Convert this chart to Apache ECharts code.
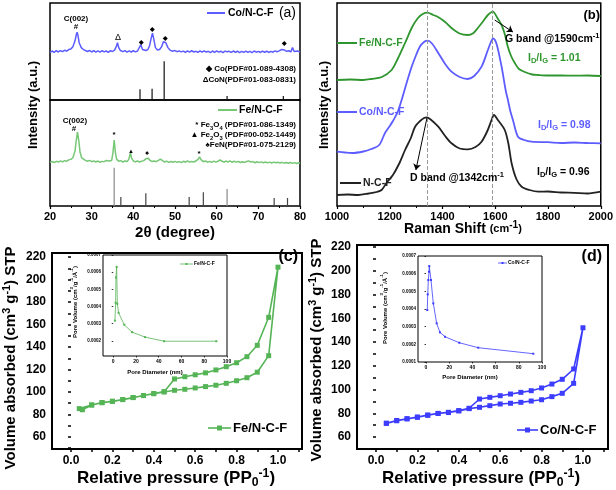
<!DOCTYPE html>
<html><head><meta charset="utf-8">
<script src="https://cdn.jsdelivr.net/npm/echarts@6/dist/echarts.min.js"></script>
<style>html,body{margin:0;padding:0;background:#fff}#c{width:616px;height:490px}</style>
</head><body><div id="c"></div>
<script>
const FF = '"Liberation Sans", Arial, Helvetica, sans-serif';

// ---------- (a) XRD ----------
const xrdCo = [[20,49],[20.5,50.5],[21,49.2],[21.5,50.8],[22,49.5],[22.5,51],[23,49.8],[23.5,51.2],[24,50.5],[24.5,52],[25,52.5],[25.5,55],[26,61],[26.3,67],[26.5,70],[26.7,67],[27,59],[27.5,54],[28,52],[28.5,51],[29,50],[29.5,51.2],[30,49.5],[30.5,50.8],[31,49.3],[31.5,50.6],[32,49.4],[32.5,50.9],[33,49.6],[33.5,50.5],[34,49.2],[34.5,50.8],[35,50],[35.5,51.5],[35.9,55],[36.2,59],[36.5,54],[36.9,51],[37.5,49.8],[38,50.9],[38.5,49.4],[39,50.6],[39.5,49.5],[40,50.8],[40.5,49.6],[41,50.5],[41.4,52],[41.8,57],[42.2,52],[42.6,50.3],[43,51],[43.5,52],[43.9,56],[44.3,64],[44.6,69],[44.9,63],[45.3,54],[45.8,51.5],[46.3,52],[46.8,55],[47.2,60],[47.5,62],[47.8,59],[48.3,54],[48.8,51.5],[49.3,50.3],[50,51],[50.5,49.8],[51,50.7],[51.5,49.6],[52,50.4],[52.5,49.2],[53,50.6],[53.5,49.3],[54,50.8],[54.5,49.5],[55,50.2],[55.5,49],[56,50.6],[56.5,49.4],[57,50.7],[57.5,49.3],[58,50.2],[58.5,48.9],[59,50.5],[59.5,49.2],[60,50.6],[60.5,49.4],[61,50.3],[61.5,48.9],[62,50.4],[62.5,49.7],[63,50.2],[63.5,49],[64,50.5],[64.5,49.2],[65,50.3],[65.5,48.8],[66,50.1],[66.5,49.1],[67,50.4],[67.5,49],[68,50.2],[68.5,48.9],[69,50.5],[69.5,49.3],[70,50.1],[70.5,49],[71,50.4],[71.5,49.2],[72,50.3],[72.5,49],[73,50.1],[73.5,49.3],[74,50.6],[74.5,49.8],[75,50.7],[75.5,52],[75.9,53.5],[76.3,51.5],[76.8,50.2],[77.3,50.8],[77.8,49.6],[78.2,54],[78.6,50],[79,49.6],[79.5,50.4],[80,49.5]];
const xrdFe = [[20,41.2],[20.5,42],[21,41],[21.5,42.2],[22,41.4],[22.5,42.6],[23,41.6],[23.5,42.8],[24,42.3],[24.5,43.5],[25,44],[25.5,45.5],[26,52],[26.3,62],[26.6,69.8],[26.9,62],[27.2,51],[27.6,45.5],[28,43.8],[28.5,43],[29,42.2],[29.5,43],[30,41.8],[30.5,42.6],[31,41.5],[31.5,42.4],[32,41.3],[32.5,42.1],[33,41.8],[33.5,43],[33.9,44.2],[34.3,42.5],[34.8,43],[35.1,50],[35.4,62.3],[35.7,50],[36,44],[36.5,42.3],[37,42.8],[37.5,41.5],[38,42.4],[38.5,42],[38.9,44],[39.3,50],[39.6,45],[40,42.5],[40.5,41.6],[41,42.4],[41.5,41.5],[42,42.3],[42.5,42.8],[43,44.5],[43.3,46.2],[43.6,45],[44,43],[44.5,42],[45,42.5],[45.5,41.8],[46,43],[46.5,44.3],[47,42.8],[47.5,41.5],[48,42.3],[48.5,41.2],[49,42],[49.5,41.3],[50,42.1],[50.5,41.2],[51,41.9],[51.5,41],[52,42.2],[52.5,41.3],[53,42.5],[53.5,41.4],[54,42],[54.5,41.5],[55,42.4],[55.5,44],[55.9,46.2],[56.3,43.5],[56.8,41.8],[57.3,42.5],[57.8,41.3],[58.3,42.1],[58.8,41.2],[59.3,42.3],[59.8,41.4],[60.3,42.2],[60.8,43.4],[61.2,42.4],[61.7,41.3],[62.2,42.4],[62.7,41.5],[63.2,42.5],[63.7,41.2],[64.2,42.2],[64.7,41.4],[65.2,42],[65.7,41],[66.2,41.8],[66.7,41.1],[67.2,42],[67.7,42.6],[68.2,41.4],[68.7,41.9],[69.2,40.8],[69.7,41.7],[70.2,40.9],[70.7,41.6],[71.2,40.8],[71.7,41.5],[72.2,40.7],[72.7,41.4],[73.2,40.6],[73.7,41.4],[74.2,40.8],[74.7,41.3],[75.2,40.5],[75.7,41.2],[76.2,40.4],[76.7,41.1],[77.2,40.3],[77.7,41],[78.2,40.2],[78.7,40.9],[79.2,40.1],[79.7,40.8],[80,40.4]];
const coRefPos = [41.6, 44.5, 47.4, 62.5, 76.0];
const coRefInt = [11, 11.5, 40, 4, 4];
const feRefPos = [35.4, 37.0, 43.0, 53.4, 56.8, 62.5, 73.8, 77.0];
const feRefInt = [36, 8.5, 12, 8.5, 13, 16, 7.5, 7.5];
const xrdTicks = [20, 30, 40, 50, 60, 70, 80];

// ---------- (b) Raman ----------
const ramanFeX = [1000,1050,1100,1130,1170,1207,1230,1258,1285,1307,1325,1343,1365,1383,1410,1434,1465,1496,1515,1534,1555,1572,1591,1608,1624,1636,1648,1660,1674,1690,1712,1740,1761,1800,1850,1900,1950,2000];
const ramanFeY = [126,126.5,126,127,129,136,147,163,179,188,192,193.3,191,189,184,178,172.5,171,172.5,178,185,191,194.3,188,181,172,159,150,143,137,134,131.5,131,130.5,130.5,130.3,130.5,130];
const ramanCoX = [1000,1030,1057,1100,1130,1160,1182,1200,1212,1230,1245,1265,1283,1300,1314,1330,1343,1360,1384,1410,1434,1465,1496,1520,1548,1572,1585,1592,1605,1624,1640,1648,1657,1667,1686,1710,1737,1800,1850,1900,1950,2000];
const ramanCoY = [54.3,53.5,53,54.5,57,61,73,80,85,94,106,124,139.3,151,159.3,164,165.3,162.5,153,142,134.3,129,127,130,139.3,156,165,167.7,162,139.3,115,106,95,86,69.3,66,64.3,63.8,63,63.5,63,62.7];
const ramanNX = [1000,1040,1080,1120,1150,1169,1190,1212,1235,1258,1280,1296,1315,1330,1340,1355,1384,1410,1434,1465,1497,1525,1548,1570,1586,1595,1610,1636,1650,1662,1680,1700,1730,1763,1800,1850,1900,1950,2000];
const ramanNY = [11,11.5,11,12.5,14,16,24,31,42,56,68,79.3,85,88,88.7,86.5,79.3,70,62.7,57.5,56.7,59,64.3,75,86,91,86,76,62,42.7,27,19.3,16,14.3,14.5,13.5,13.2,12.5,14.3];
const ramanTicks = [1000, 1200, 1400, 1600, 1800, 2000];
const dBand = 1342, gBand = 1590;

// ---------- (c) Fe/N-C-F isotherm ----------
const feP = [0.04,0.1,0.15,0.2,0.25,0.3,0.35,0.4,0.45,0.5,0.55,0.6,0.65,0.7,0.75,0.8,0.85,0.9,0.955,1.0,0.955,0.9,0.85,0.8,0.75,0.7,0.65,0.6,0.55,0.5,0.45,0.4,0.35,0.3,0.25,0.2,0.15,0.1,0.055];
const feV = [85.2,88.4,90.5,91.6,93.2,95,96.8,98.5,100,101.5,102.4,103.6,104.8,106,107.7,110,112.7,117.6,132.3,211,166.4,141.5,131.4,126,122.5,119.6,117,115.3,113.6,111.6,100.3,98.6,96.9,95.1,93.3,91.8,90.6,88.5,84.2];
const feDia = [1.5,2.1,2.4,3.0,3.6,4.7,9.7,16.5,28,44.7,90.6];
const fePore = [0.000318,0.000422,0.000569,0.000631,0.000416,0.000363,0.000294,0.000251,0.000222,0.000198,0.000198];

// ---------- (d) Co/N-C-F isotherm ----------
const coP = [0.05,0.1,0.15,0.2,0.25,0.3,0.35,0.4,0.45,0.5,0.55,0.6,0.65,0.7,0.75,0.8,0.85,0.9,0.955,1.0,0.955,0.9,0.85,0.8,0.75,0.7,0.65,0.6,0.55,0.5,0.45,0.4,0.35,0.3,0.25,0.2,0.15,0.1,0.05];
const coV = [71.5,73.7,75.3,76.6,78.3,79.8,80.6,82,83.9,85,86.4,87.8,88.4,89.2,90.3,91.4,94,96.8,105.2,152,117.3,108.6,104.6,101.3,99,97.6,96.2,94.8,93.4,92,84.2,82.2,80.8,79.9,78.5,76.8,75.4,73.9,71.6];
const coDia = [1.1,1.5,2.0,2.6,2.8,4.3,6.3,9.2,12,16.4,28.7,45,92.5];
const coPore = [0.000394,0.000483,0.000564,0.000611,0.000643,0.000564,0.000432,0.000319,0.000268,0.000243,0.000209,0.000181,0.000147];

const pTicks = [0, 0.2, 0.4, 0.6, 0.8, 1.0];
const pMinor = [0,0.1,0.2,0.3,0.4,0.5,0.6,0.7,0.8,0.9,1.0,1.1];
const vTicks = [60, 80, 100, 120, 140, 160, 180, 200, 220];
const vMinor = [50,60,70,80,90,100,110,120,130,140,150,160,170,180,190,200,210,220];
const diaTicks = [0, 20, 40, 60, 80, 100];
const poreTicksC = [0.0002, 0.0003, 0.0004, 0.0005, 0.0006, 0.0007];
const poreTicksD = [0.0001, 0.0002, 0.0003, 0.0004, 0.0005, 0.0006, 0.0007];

const zip = (a, b) => a.map((v, i) => [v, b[i]]);

const C_COX = '#5c5cff', C_FEX = '#76c776', C_FER = '#2f962f', C_COR = '#5d5dff', C_FEI = '#55b455', C_COI = '#3d3dff';

function hiddenAxis(gi, min, max) {
  return {type: 'value', gridIndex: gi, min, max, axisLine: {show: false}, axisTick: {show: false}, axisLabel: {show: false}, splitLine: {show: false}};
}
function lab(size) { return {fontSize: size, fontWeight: 'bold', fontFamily: FF, color: '#000'}; }
const plain = v => String(v);

const grids = [
  {left: 50, top: 3, width: 250, height: 97, show: true, borderColor: '#000', borderWidth: 1.5},
  {left: 50, top: 100, width: 250, height: 106, show: true, borderColor: '#000', borderWidth: 1.5},
  {left: 337, top: 3, width: 264, height: 203, show: true, borderColor: '#000', borderWidth: 1.5},
  {left: 52, top: 253, width: 250, height: 196, show: true, borderColor: '#000', borderWidth: 2},
  {left: 103, top: 255, width: 124, height: 101, show: true, borderColor: '#000', borderWidth: 1, backgroundColor: '#fff'},
  {left: 357, top: 245, width: 251, height: 204, show: true, borderColor: '#000', borderWidth: 2},
  {left: 418, top: 256, width: 124, height: 106, show: true, borderColor: '#000', borderWidth: 1, backgroundColor: '#fff'}
];

const xAxes = [
  hiddenAxis(0, 20, 80),
  {type: 'value', gridIndex: 1, min: 20, max: 80, interval: 10, axisLine: {show: false},
   axisTick: {show: true, length: 3, lineStyle: {color: '#000', width: 1.2}},
   minorTick: {show: true, splitNumber: 2, length: 2, lineStyle: {color: '#000'}},
   axisLabel: Object.assign(lab(11), {margin: 5, formatter: plain}), splitLine: {show: false}},
  {type: 'value', gridIndex: 2, min: 1000, max: 2000, interval: 200, axisLine: {show: false},
   axisTick: {show: true, length: 3, lineStyle: {color: '#000', width: 1.2}},
   minorTick: {show: true, splitNumber: 2, length: 2, lineStyle: {color: '#000'}},
   axisLabel: Object.assign(lab(11), {margin: 5, formatter: plain}), splitLine: {show: false}},
  {type: 'value', gridIndex: 3, min: -0.0918, max: 1.116, axisLine: {show: false},
   axisTick: {show: true, length: 3, customValues: pMinor, lineStyle: {color: '#000', width: 1.5}},
   axisLabel: Object.assign(lab(12), {margin: 6, customValues: pTicks, formatter: v => v.toFixed(1)}), splitLine: {show: false}},
  {type: 'value', gridIndex: 4, min: -9, max: 100, axisLine: {show: false},
   axisTick: {show: true, length: 1.5, customValues: diaTicks, lineStyle: {color: '#000', width: 0.8}},
   axisLabel: Object.assign(lab(5), {margin: 3, customValues: diaTicks}), splitLine: {show: false}},
  {type: 'value', gridIndex: 5, min: -0.0918, max: 1.121, axisLine: {show: false},
   axisTick: {show: true, length: 3, customValues: pMinor, lineStyle: {color: '#000', width: 1.5}},
   axisLabel: Object.assign(lab(12), {margin: 6, customValues: pTicks, formatter: v => v.toFixed(1)}), splitLine: {show: false}},
  {type: 'value', gridIndex: 6, min: -6.9, max: 100, axisLine: {show: false},
   axisTick: {show: true, length: 1.5, customValues: diaTicks, lineStyle: {color: '#000', width: 0.8}},
   axisLabel: Object.assign(lab(5), {margin: 3, customValues: diaTicks}), splitLine: {show: false}}
];

const yAxes = [
  hiddenAxis(0, 0, 100),
  hiddenAxis(1, 0, 100),
  hiddenAxis(2, 0, 203),
  {type: 'value', gridIndex: 3, min: 49.3, max: 223.6, axisLine: {show: false},
   axisTick: {show: true, length: 3, customValues: vMinor, lineStyle: {color: '#000', width: 1.5}},
   axisLabel: Object.assign(lab(12), {margin: 6, customValues: vTicks}), splitLine: {show: false}},
  {type: 'value', gridIndex: 4, min: 0.000112, max: 0.0007, axisLine: {show: false},
   axisTick: {show: true, length: 1.5, customValues: poreTicksC, lineStyle: {color: '#000', width: 0.8}},
   axisLabel: Object.assign(lab(4.5), {margin: 2, customValues: poreTicksC, formatter: v => v.toFixed(4)}), splitLine: {show: false}},
  {type: 'value', gridIndex: 5, min: 49.9, max: 221.7, axisLine: {show: false},
   axisTick: {show: true, length: 3, customValues: vMinor, lineStyle: {color: '#000', width: 1.5}},
   axisLabel: Object.assign(lab(12), {margin: 6, customValues: vTicks}), splitLine: {show: false}},
  {type: 'value', gridIndex: 6, min: 0.0001, max: 0.0007, axisLine: {show: false},
   axisTick: {show: true, length: 1.5, customValues: poreTicksD, lineStyle: {color: '#000', width: 0.8}},
   axisLabel: Object.assign(lab(4.5), {margin: 2, customValues: poreTicksD, formatter: v => v.toFixed(4)}), splitLine: {show: false}}
];

const series = [
  {type: 'line', xAxisIndex: 0, yAxisIndex: 0, data: xrdCo, showSymbol: false, lineStyle: {color: C_COX, width: 1.5}, z: 3},
  {type: 'bar', xAxisIndex: 0, yAxisIndex: 0, data: zip(coRefPos, coRefInt), barWidth: 1.2, itemStyle: {color: '#111'}},
  {type: 'line', xAxisIndex: 1, yAxisIndex: 1, data: xrdFe, showSymbol: false, lineStyle: {color: C_FEX, width: 1.5}, z: 3},
  {type: 'bar', xAxisIndex: 1, yAxisIndex: 1, barWidth: 1.2,
   data: zip(feRefPos, feRefInt).map((d, i) => ({value: d, itemStyle: {color: (i === 0 || i === 5) ? '#8a8a8a' : '#444'}}))},
  {type: 'line', xAxisIndex: 2, yAxisIndex: 2, data: zip(ramanFeX, ramanFeY), showSymbol: false, smooth: 0.3,
   lineStyle: {color: C_FER, width: 1.8},
   markLine: {silent: true, symbol: 'none', label: {show: false}, lineStyle: {color: '#999', type: 'dashed', width: 1},
     data: [{xAxis: dBand}, {xAxis: gBand}]}},
  {type: 'line', xAxisIndex: 2, yAxisIndex: 2, data: zip(ramanCoX, ramanCoY), showSymbol: false, smooth: 0.3,
   lineStyle: {color: C_COR, width: 1.8}},
  {type: 'line', xAxisIndex: 2, yAxisIndex: 2, data: zip(ramanNX, ramanNY), showSymbol: false, smooth: 0.3,
   lineStyle: {color: '#222', width: 1.8},
   markLine: {silent: true, symbol: ['none', 'arrow'], symbolSize: 6, label: {show: false},
     lineStyle: {color: '#000', type: 'solid', width: 1},
     data: [[{coord: [1598, 186]}, {coord: [1667, 174]}], [{coord: [1341, 88]}, {coord: [1299, 36]}]]}},
  {type: 'line', xAxisIndex: 3, yAxisIndex: 3, data: zip(feP, feV), symbol: 'rect', symbolSize: 5,
   lineStyle: {color: C_FEI, width: 1.6}, itemStyle: {color: C_FEI}},
  {type: 'line', xAxisIndex: 4, yAxisIndex: 4, data: zip(feDia, fePore), symbol: 'rect', symbolSize: 2,
   lineStyle: {color: C_FEI, width: 0.8}, itemStyle: {color: C_FEI}, z: 6},
  {type: 'line', xAxisIndex: 5, yAxisIndex: 5, data: zip(coP, coV), symbol: 'rect', symbolSize: 5,
   lineStyle: {color: C_COI, width: 1.6}, itemStyle: {color: C_COI}},
  {type: 'line', xAxisIndex: 6, yAxisIndex: 6, data: zip(coDia, coPore), symbol: 'rect', symbolSize: 2,
   lineStyle: {color: C_COI, width: 0.8}, itemStyle: {color: C_COI}, z: 6}
];

function T(x, y, text, size, o) {
  o = o || {};
  const st = {text, x: 0, y: 0, fontSize: size, fontWeight: o.w || 'bold', fontFamily: FF, fill: o.c || '#000',
    align: o.a || 'left', verticalAlign: 'middle', textAlign: o.a || 'left', textVerticalAlign: 'middle'};
  if (o.rich) st.rich = o.rich;
  if (o.lh) st.lineHeight = o.lh;
  return {type: 'text', x, y, rotation: o.r || 0, style: st, z: 100};
}
function L(x1, y1, x2, y2, c, w) {
  return {type: 'line', shape: {x1, y1, x2, y2}, style: {stroke: c, lineWidth: w || 1.5}, z: 100};
}
function R(cx, cy, s, c) {
  return {type: 'rect', shape: {x: cx - s / 2, y: cy - s / 2, width: s, height: s}, style: {fill: c}, z: 100};
}
function richSet(size, color) {
  const base = {fontSize: size, fontWeight: 'bold', fontFamily: FF, fill: color, lineHeight: size + 4};
  return {
    b: base,
    s: {fontSize: size * 0.72, fontWeight: 'bold', fontFamily: FF, fill: color, verticalAlign: 'bottom', lineHeight: size * 0.72},
    u: {fontSize: size * 0.72, fontWeight: 'bold', fontFamily: FF, fill: color, verticalAlign: 'top', lineHeight: size * 0.72},
    m: {fontSize: 11, fontWeight: 'bold', fontFamily: FF, fill: color}
  };
}
function RT(x, y, text, size, color, o) {
  o = o || {};
  return T(x, y, text, size, Object.assign({c: color, rich: richSet(size, color), lh: size + 4}, o));
}

const g = [
  // (a)
  T(33, 105, 'Intensity (a.u.)', 13, {a: 'center', r: Math.PI / 2}),
  T(175, 233, '2θ (degree)', 15, {a: 'center'}),
  T(76, 19, 'C(002)', 8, {a: 'center'}),
  T(76, 27, '#', 8, {a: 'center'}),
  T(118, 38, 'Δ', 9, {a: 'center', w: 'normal'}),
  T(141.7, 42, '◆', 6, {a: 'center'}), T(152.7, 29, '◆', 6, {a: 'center'}),
  T(165, 38, '◆', 6, {a: 'center'}), T(284, 43, '◆', 6, {a: 'center'}),
  L(207, 13, 225, 13, C_COX, 2), T(228, 13, 'Co/N-C-F', 10.5),
  T(296, 13, '(a)', 14, {a: 'right', w: 'normal'}),
  T(296, 69, '◆ Co(PDF#01-089-4308)', 8, {a: 'right'}),
  T(296, 80, 'ΔCoN(PDF#01-083-0831)', 8, {a: 'right'}),
  L(218, 110, 237, 110, C_FEX, 2), T(239, 110, 'Fe/N-C-F', 10.5),
  T(75, 121, 'C(002)', 8, {a: 'center'}),
  T(74, 129, '#', 8, {a: 'center'}),
  RT(296, 125, '{b|* Fe}{s|3}{b|O}{s|4}{b| (PDF#01-086-1349)}', 8, '#000', {a: 'right'}),
  RT(296, 135, '{b|▲ Fe}{s|2}{b|O}{s|3}{b| (PDF#00-052-1449)}', 8, '#000', {a: 'right'}),
  T(296, 145, '♠FeN(PDF#01-075-2129)', 8, {a: 'right'}),
  T(114, 135, '*', 8, {a: 'center'}), T(131, 151, '▲', 6, {a: 'center'}),
  T(147, 153, '♠', 7, {a: 'center'}), T(199, 154, '*', 8, {a: 'center'}),
  // (b)
  T(324, 105, 'Intensity (a.u.)', 13, {a: 'center', r: Math.PI / 2}),
  RT(463, 229, '{b|Raman Shift }{m|(cm}{u|-1}{m|)}', 14, '#000', {a: 'center'}),
  T(600, 15, '(b)', 13, {a: 'right'}),
  L(337, 43, 357, 43, C_FER, 2), T(359, 43, 'Fe/N-C-F', 10.5, {c: C_FER}),
  L(337, 112, 357, 112, C_COR, 2), T(359, 112, 'Co/N-C-F', 10.5, {c: C_COR}),
  L(340, 183, 361, 183, '#222', 2), T(363, 183, 'N-C-F', 10.5, {c: '#222'}),
  RT(505, 39, '{b|G band @1590cm}{u|-1}', 10.5, '#000'),
  RT(528, 58, '{b|I}{s|D}{b|/I}{s|G}{b| = 1.01}', 10.5, C_FER),
  RT(538, 125, '{b|I}{s|D}{b|/I}{s|G}{b| = 0.98}', 10.5, C_COR),
  RT(537, 172, '{b|I}{s|D}{b|/I}{s|G}{b| = 0.96}', 10.5, '#000'),
  RT(410, 178, '{b|D band @1342cm}{u|-1}', 10.5, '#000'),
  // (c)
  RT(11, 358, '{b|Volume absorbed (cm}{u|3}{b| g}{u|-1}{b|) STP}', 15, '#000', {a: 'center', r: Math.PI / 2}),
  RT(176, 478, '{b|Relative pressure (PP}{s|0}{u|-1}{b|)}', 17, '#000', {a: 'center'}),
  T(298, 257, '(c)', 16, {a: 'right'}),
  L(208, 428, 231, 428, C_FEI, 1.6), R(219.5, 428, 5, C_FEI), T(233, 428, 'Fe/N-C-F', 13),
  RT(75, 302, '{b|Pore Volume (cm}{u|3}{b|/g}{u|-1}{b|/Å}{u|-1}{b|)}', 6, '#000', {a: 'center', r: Math.PI / 2}),
  T(155, 372, 'Pore Diameter (nm)', 6, {a: 'center'}),
  L(180, 264, 193, 264, C_FEI, 0.8), R(186.5, 264, 2, C_FEI), T(194, 264, 'Fe/N-C-F', 5),
  // (d)
  RT(317, 350, '{b|Volume absorbed (cm}{u|3}{b| g}{u|-1}{b|) STP}', 15, '#000', {a: 'center', r: Math.PI / 2}),
  RT(481, 478, '{b|Relative pressure (PP}{s|0}{u|-1}{b|)}', 17, '#000', {a: 'center'}),
  T(602, 257, '(d)', 16, {a: 'right'}),
  L(517, 430, 538, 430, C_COI, 1.6), R(527.5, 430, 5, C_COI), T(540, 430, 'Co/N-C-F', 13),
  RT(385, 308, '{b|Pore Volume (cm}{u|3}{b|/g}{u|-1}{b|/Å}{u|-1}{b|)}', 6, '#000', {a: 'center', r: Math.PI / 2}),
  T(470, 377, 'Pore Diameter (nm)', 6, {a: 'center'}),
  L(498, 263, 507, 263, C_COI, 0.8), R(502.5, 263, 2, C_COI), T(508, 263, 'Co/N-C-F', 5)
];

const chart = echarts.init(document.getElementById('c'), null, {renderer: 'canvas'});
chart.setOption({
  animation: false,
  backgroundColor: '#fff',
  grid: grids, xAxis: xAxes, yAxis: yAxes, series,
  graphic: {elements: g}
});
</script></body></html>
